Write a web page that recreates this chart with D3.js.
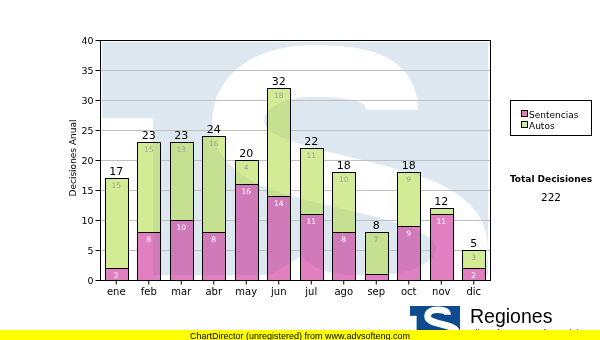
<!DOCTYPE html>
<html><head><meta charset="utf-8">
<script src="https://cdn.jsdelivr.net/npm/d3@7"></script>
<style>body{margin:0;background:#fff}svg{display:block}</style>
</head><body>
<svg id="c" width="600" height="340"></svg>
<script>
const months = ["ene","feb","mar","abr","may","jun","jul","ago","sep","oct","nov","dic"];
const sentencias = [2,8,10,8,16,14,11,8,1,9,11,2];
const autos = [15,15,13,16,4,18,11,10,7,9,1,3];
const seriesNames = ["Sentencias","Autos"];
const seriesColors = ["#e080c0","#d4eb95"];
const yTicks = [0,5,10,15,20,25,30,35,40];
const yTitle = "Decisiones Anual";
const totalTitle = "Total Decisiones";
const brand = "Regiones";
const brandSub = "Tribunal Supremo de Justicia";
const footer = "ChartDirector (unregistered) from www.advsofteng.com";

const FONT = "'DejaVu Sans', Verdana, sans-serif";
const ARIAL = "'Liberation Sans', Arial, sans-serif";
const svg = d3.select("#c");
const defs = svg.append("defs");
const L = 100, R = 490, T = 40, B = 280;

const data = months.map((m,i)=>({month:m, Sentencias:sentencias[i], Autos:autos[i]}));
const stacked = d3.stack().keys(seriesNames)(data);
const totals = data.map(d=>d.Sentencias + d.Autos);

const x = d3.scaleBand().domain(months).range([L,R]).paddingInner(0.29).paddingOuter(0.145);
const y = d3.scaleLinear().domain([0,40]).range([B,T]);
const bw = Math.round(x.bandwidth());

svg.append("rect").attr("width",600).attr("height",340).attr("fill","#fff");

let clipN = 0;
function logoShape(g, blue){
  const cid = "lclip" + (clipN++);
  defs.append("clipPath").attr("id",cid).append("rect").attr("width",386).attr("height",233);
  const gg = g.append("g").attr("clip-path",`url(#${cid})`);
  gg.append("rect").attr("width",386).attr("height",233).attr("fill",blue);
  gg.append("rect").attr("x",0).attr("y",76).attr("width",51).attr("height",160).attr("fill","#fff");
  gg.append("path")
    .attr("d","M290,68 C290,37 260,29 213,29 C165,29 136,50 136,80 C136,114 180,126 240,140 C320,158 360,172 360,207 C360,237 325,260 265,260 C215,260 190,247 178,227")
    .attr("fill","none").attr("stroke","#fff").attr("stroke-width",52);
}

// watermark under plot
const wm = svg.append("g").attr("transform","translate(102,42)");
logoShape(wm, "#dee8f1");

// grid
svg.append("g").selectAll("line").data(yTicks.filter(v=>v>0 && v<40)).join("line")
  .attr("x1",L).attr("x2",R).attr("y1",d=>y(d)+0.5).attr("y2",d=>y(d)+0.5)
  .attr("stroke","#c0c0c0").attr("stroke-width",1);

// bars
const barG = svg.append("g");
barG.selectAll("g").data(stacked).join("g")
  .attr("fill",(d,i)=>seriesColors[i])
  .selectAll("rect").data(d=>d.map((v,i)=>({v,i}))).join("rect")
  .attr("x",d=>Math.round(x(months[d.i]))+0.5)
  .attr("y",d=>Math.round(y(d.v[1]))+0.5)
  .attr("width",bw)
  .attr("height",d=>Math.round(y(d.v[0]))-Math.round(y(d.v[1])))
  .attr("stroke","#000").attr("stroke-width",1);

// watermark tint over the bars (multiply, half strength)
const bc = defs.append("clipPath").attr("id","barsClip");
bc.selectAll("rect").data(months).join("rect")
  .attr("x",m=>Math.round(x(m))+1).attr("y",(m,i)=>Math.round(y(totals[i]))+1)
  .attr("width",bw-1).attr("height",(m,i)=>B-Math.round(y(totals[i]))-1);
const ov = svg.append("g").attr("clip-path","url(#barsClip)")
  .style("mix-blend-mode","multiply").attr("opacity",0.5);
logoShape(ov.append("g").attr("transform","translate(102,42)"), "#dee8f1");

// plot border
svg.append("rect").attr("x",L+0.5).attr("y",T+0.5).attr("width",R-L).attr("height",B-T)
  .attr("fill","none").attr("stroke","#000");

// axes
const ya = svg.append("g").attr("transform",`translate(${L+0.5},0)`)
  .call(d3.axisLeft(y).tickValues(yTicks).tickSize(5).tickPadding(2));
ya.select(".domain").remove();
ya.selectAll("text").attr("font-family",FONT).attr("font-size",9.5).attr("fill","#000");

const xa = svg.append("g").attr("transform",`translate(0,${B+0.5})`)
  .call(d3.axisBottom(x).tickSize(4).tickPadding(3));
xa.select(".domain").remove();
xa.selectAll("text").attr("font-family",FONT).attr("font-size",10).attr("fill","#000");

svg.append("text").attr("transform","translate(76,158) rotate(-90)")
  .attr("text-anchor","middle").attr("font-family",FONT).attr("font-size",9)
  .text(yTitle);

// totals
svg.append("g").selectAll("text").data(months).join("text")
  .attr("x",m=>x(m)+bw/2).attr("y",(m,i)=>y(totals[i])-3)
  .attr("text-anchor","middle").attr("font-family",FONT).attr("font-size",11)
  .text((m,i)=>totals[i]);

// inner labels
stacked.forEach((s,si)=>{
  svg.append("g").selectAll("text").data(s.map((v,i)=>({v,i})).filter(d=>d.v[1]-d.v[0]>=2)).join("text")
    .attr("x",d=>x(months[d.i])+bw/2).attr("y",d=>y(d.v[1])+10)
    .attr("text-anchor","middle").attr("font-family",FONT).attr("font-size",7.5)
    .attr("fill", si===0 ? "#ffffff" : "#a0a0a0")
    .text(d=>d.v[1]-d.v[0]);
});

// legend
const lg = svg.append("g");
lg.append("rect").attr("x",510.5).attr("y",100.5).attr("width",81).attr("height",35)
  .attr("fill","#fff").attr("stroke","#000");
seriesNames.forEach((n,i)=>{
  lg.append("rect").attr("x",521.5).attr("y",110.5+i*11).attr("width",6).attr("height",6)
    .attr("fill",seriesColors[i]).attr("stroke","#000");
  lg.append("text").attr("x",529).attr("y",117.5+i*11).attr("font-family",FONT).attr("font-size",9)
    .text(n);
});

svg.append("text").attr("x",551).attr("y",181.5).attr("text-anchor","middle")
  .attr("font-family",FONT).attr("font-size",9).attr("font-weight","bold").text(totalTitle);
svg.append("text").attr("x",551).attr("y",200.5).attr("text-anchor","middle")
  .attr("font-family",FONT).attr("font-size",10.5).text(d3.sum(totals));

// brand logo
const lo = svg.append("g").attr("transform","translate(410,306) scale(0.1295)");
logoShape(lo, "#0d4a8e");
svg.append("text").attr("x",470).attr("y",322.5).attr("font-family",ARIAL).attr("font-size",19.5)
  .text(brand);
svg.append("text").attr("x",467).attr("y",336).attr("font-family",ARIAL).attr("font-size",9)
  .text(brandSub);

// footer
svg.append("rect").attr("x",0).attr("y",330).attr("width",600).attr("height",10).attr("fill","#ffff00");
svg.append("text").attr("x",300).attr("y",338.5).attr("text-anchor","middle")
  .attr("font-family",ARIAL).attr("font-size",9).text(footer);
</script>
</body></html>
